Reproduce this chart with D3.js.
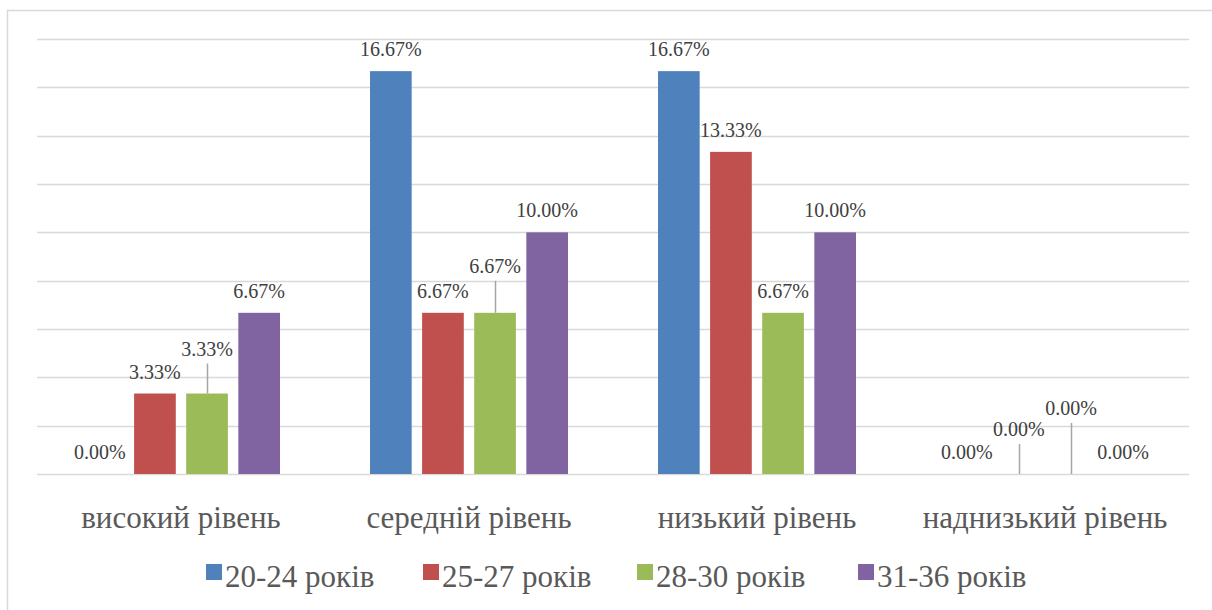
<!DOCTYPE html>
<html>
<head>
<meta charset="utf-8">
<script src="https://cdn.jsdelivr.net/npm/d3@7"></script>
<style>
  html, body { margin: 0; padding: 0; background: #fff; }
  svg { display: block; }
</style>
</head>
<body>
<svg id="chart" width="1212" height="610"></svg>
<script>
// Розподіл за рівнями та віковими групами (%)
const categories = ["високий рівень", "середній рівень", "низький рівень", "наднизький рівень"];
const seriesNames = ["20-24 років", "25-27 років", "28-30 років", "31-36 років"];
const seriesColors = ["#4f81bd", "#c0504d", "#9bbb59", "#8064a2"];
const values20_24 = [0.00, 16.67, 16.67, 0.00];
const values25_27 = [3.33, 6.67, 13.33, 0.00];
const values28_30 = [3.33, 6.67, 6.67, 0.00];
const values31_36 = [6.67, 10.00, 10.00, 0.00];
const yTicks = [0, 2, 4, 6, 8, 10, 12, 14, 16, 18];

const seriesValues = [values20_24, values25_27, values28_30, values31_36];

const FONT = "'Liberation Serif', 'DejaVu Serif', 'Times New Roman', serif";
const labelSize = 20;
const bigSize = 31;

const svg = d3.select("#chart").attr("font-family", FONT);
const W = 1212, H = 610;

// chart area frame (runs past the right and bottom edges)
svg.append("rect")
  .attr("x", 7.5).attr("y", 10.5)
  .attr("width", W + 20).attr("height", H + 20)
  .attr("fill", "#fff")
  .attr("stroke", "#d9d9d9").attr("stroke-width", 1.5);

const plot = { left: 37, right: 1189, top: 39, bottom: 474 };

const y = d3.scaleLinear().domain([0, 18]).range([plot.bottom, plot.top]);
const x0 = d3.scaleBand().domain(categories).range([plot.left, plot.right]).padding(0);
const groupHalf = 99;
const x1 = d3.scaleBand().domain(seriesNames).range([-groupHalf, groupHalf]).paddingInner(0.2).paddingOuter(0);

// horizontal gridlines
svg.append("g")
  .selectAll("line")
  .data(yTicks)
  .join("line")
  .attr("x1", plot.left).attr("x2", plot.right)
  .attr("y1", d => Math.round(y(d)) + 0.5).attr("y2", d => Math.round(y(d)) + 0.5)
  .attr("stroke", "#d9d9d9").attr("stroke-width", 1.5);

// flatten into one record per bar
const records = [];
categories.forEach((c, ci) => {
  seriesNames.forEach((s, si) => {
    records.push({ cat: c, ci, series: s, si, value: seriesValues[si][ci] });
  });
});
const barX = d => x0(d.cat) + x0.bandwidth() / 2 + x1(d.series);
const barCx = d => barX(d) + x1.bandwidth() / 2;

// bars
svg.append("g")
  .selectAll("rect")
  .data(records)
  .join("rect")
  .attr("x", barX)
  .attr("y", d => y(d.value))
  .attr("width", x1.bandwidth())
  .attr("height", d => y(0) - y(d.value))
  .attr("fill", (d) => seriesColors[d.si]);

// data-label placement: nudges for labels that would overlap neighbours
// key "ci-si" -> [dx, dy extra, leader line]
const labelNudge = {
  "0-0": [-3, 0, 0],
  "0-2": [0, -23, 1],
  "1-2": [0, -25, 1],
  "3-1": [0, -23, 1],
  "3-2": [0, -44, 1]
};

const fmt = v => v.toFixed(2) + "%";
const labels = svg.append("g");
records.forEach(d => {
  const n = labelNudge[d.ci + "-" + d.si] || [0, 0, 0];
  const cx = barCx(d) + n[0];
  const top = y(d.value);
  const cy = top - 22 + n[1];
  if (n[2]) {
    labels.append("line")
      .attr("x1", Math.round(cx) + 0.5).attr("x2", Math.round(cx) + 0.5)
      .attr("y1", cy + 15).attr("y2", top)
      .attr("stroke", "#a6a6a6").attr("stroke-width", 1.5);
  }
  labels.append("text")
    .attr("x", cx).attr("y", cy)
    .attr("text-anchor", "middle")
    .attr("dominant-baseline", "central")
    .attr("font-size", labelSize)
    .attr("fill", "#404040")
    .text(fmt(d.value));
});

// category axis labels
svg.append("g")
  .selectAll("text")
  .data(categories)
  .join("text")
  .attr("x", d => x0(d) + x0.bandwidth() / 2)
  .attr("y", 517)
  .attr("text-anchor", "middle")
  .attr("dominant-baseline", "central")
  .attr("font-size", bigSize)
  .attr("fill", "#595959")
  .text(d => d);

// legend
const legendX = [206, 423, 637, 858];
const legend = svg.append("g");
seriesNames.forEach((s, i) => {
  legend.append("rect")
    .attr("x", legendX[i]).attr("y", 564)
    .attr("width", 16).attr("height", 16)
    .attr("fill", seriesColors[i]);
  legend.append("text")
    .attr("x", legendX[i] + 19).attr("y", 576)
    .attr("dominant-baseline", "central")
    .attr("font-size", bigSize)
    .attr("fill", "#595959")
    .text(s);
});
</script>
</body>
</html>
